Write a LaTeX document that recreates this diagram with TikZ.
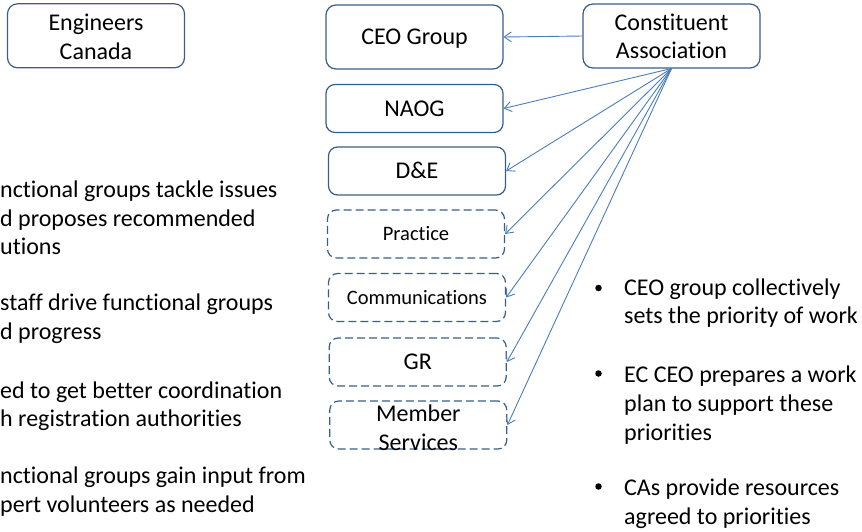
\documentclass[tikz,border=0pt]{standalone}
\usepackage{fontspec}
\setmainfont{Carlito}[Ligatures=CommonOff]
\usetikzlibrary{arrows.meta}
\definecolor{boxc}{RGB}{56,93,138}
\definecolor{linec}{RGB}{74,126,187}
\tikzset{
  x=1pt, y=-1pt,
  bigbox/.style={draw=boxc, line width=1.2pt, rounded corners=10pt, minimum width=177pt, minimum height=64pt, inner sep=0pt},
  solidbox/.style={draw=boxc, line width=1.2pt, rounded corners=9pt, minimum width=177pt, minimum height=48pt, inner sep=0pt, text height=15.5pt, text depth=0pt, font=\fontsize{24}{28.5}\selectfont},
  dashbox/.style={solidbox, dash pattern=on 8pt off 4pt},
  smalltext/.style={text height=13.2pt, font=\fontsize{20.5}{24}\selectfont},
  boxtext/.style={anchor=base, inner sep=0pt, font=\fontsize{24}{28.5}\selectfont},
  txt/.style={anchor=base west, inner sep=0pt, font=\fontsize{24}{28.5}\selectfont},
  conn/.style={draw=linec, line width=0.9pt, -{Straight Barb[length=7pt,width=10pt]}},
  dot/.style={circle, fill=black, inner sep=0pt, minimum size=6.5pt}
}
\begin{document}
\begin{tikzpicture}
\useasboundingbox (0,0) rectangle (862,531);
% top boxes
\node[bigbox] (ec) at (96,35.8) {};
\node[boxtext] (ec1) at (96,30.5) {Engineers};
\node[boxtext] (ec2) at (96,59) {Canada};
\node[solidbox, minimum height=64pt, rounded corners=10pt] (ceo) at (414.5,37) {CEO Group};
\node[bigbox] (ca) at (671.5,36) {};
\node[boxtext] (ca1) at (671.5,30.3) {Constituent};
\node[boxtext] (ca2) at (671.5,58.8) {Association};
% group boxes
\node[solidbox] (naog) at (414.5,108.5) {NAOG};
\node[solidbox] (de) at (417,171) {D\&E};
\node[dashbox, smalltext] (pr) at (416,234) {Practice};
\node[dashbox, smalltext] (com) at (417,297.5) {Communications};
\node[dashbox] (gr) at (417.7,362) {GR};
\node[dashbox] (ms) at (418.3,425) {};
\node[boxtext] (ms1) at (418.3,421) {Member};
\node[boxtext] (ms2) at (418.3,450) {Services};
% connectors
\draw[conn] (ca.west) -- (ceo.east);
\coordinate (cas) at (671.5,68.5);
\draw[conn] (cas) -- (naog.east);
\draw[conn] (cas) -- (de.east);
\draw[conn] (cas) -- (pr.east);
\draw[conn] (cas) -- (com.east);
\draw[conn] (cas) -- (gr.east);
\draw[conn] (cas) -- (ms.east);
% left text
\node[txt] (l1) at (0,197.5) {nctional groups tackle issues};
\node[txt] (l2) at (0,226) {d proposes recommended};
\node[txt] (l3) at (0,254.5) {utions};
\node[txt] (l4) at (0,310.5) {staff drive functional groups};
\node[txt] (l5) at (0,339) {d progress};
\node[txt] (l6) at (0,398) {ed to get better coordination};
\node[txt] (l7) at (0,426.5) {h registration authorities};
\node[txt] (l8) at (0,483.5) {nctional groups gain input from};
\node[txt] (l9) at (0,512) {pert volunteers as needed};
% right bullets
\node[dot] (b1) at (598.5,288) {};
\node[txt] (r1) at (624,295) {CEO group collectively};
\node[txt] (r2) at (624,323.5) {sets the priority of work};
\node[dot] (b2) at (598.5,373.5) {};
\node[txt] (r3) at (624,382) {EC CEO prepares a work};
\node[txt] (r4) at (624,411) {plan to support these};
\node[txt] (r5) at (624,440) {priorities};
\node[dot] (b3) at (598.5,486.5) {};
\node[txt] (r6) at (624,495) {CAs provide resources};
\node[txt] (r7) at (624,524) {agreed to priorities};
\end{tikzpicture}
\end{document}
